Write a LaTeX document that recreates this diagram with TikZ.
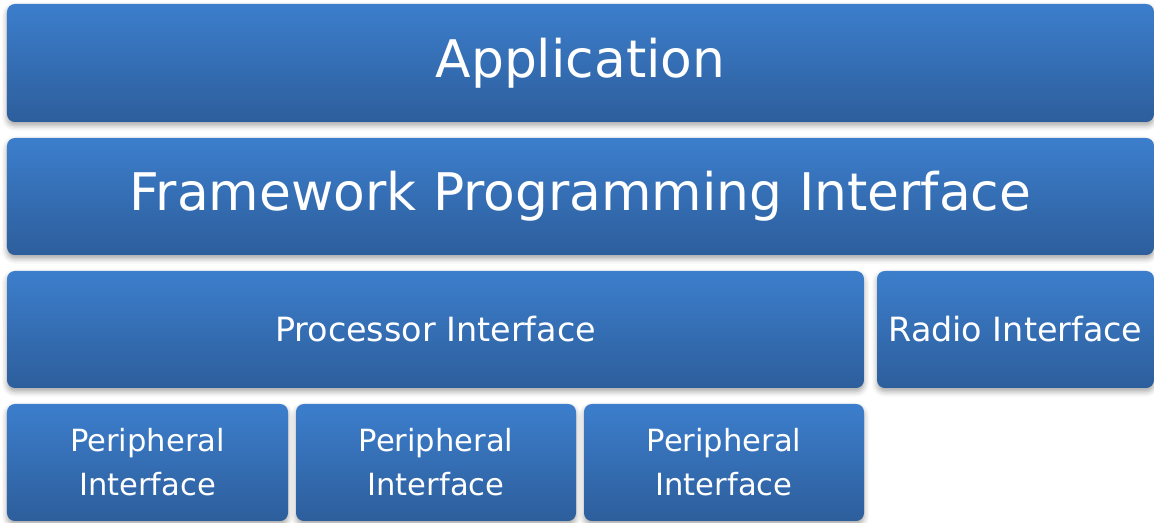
\documentclass[tikz,border=0pt]{standalone}
\usepackage{fontspec}
\setmainfont{DejaVu Sans}
\usetikzlibrary{shadows.blur}
\definecolor{layertop}{RGB}{60,126,204}
\definecolor{layerbot}{RGB}{45,94,156}

\begin{document}
\begin{tikzpicture}
\tikzstyle{layer}=[rounded corners=4.5pt, top color=layertop, bottom color=layerbot, text=white, align=center, inner sep=0pt,
  blur shadow={shadow xshift=0pt, shadow yshift=-2pt, shadow blur radius=3pt, shadow opacity=35}]
\tikzstyle{layer_big}=[layer, font=\fontsize{29.5}{34}\selectfont]
\tikzstyle{layer_mid}=[layer, font=\fontsize{19}{23}\selectfont]
\tikzstyle{layer_small}=[layer, font=\fontsize{17.4}{25}\selectfont]

\useasboundingbox (0,0) rectangle (23.08,-10.46);

\path (11.61,-1.26) node[layer_big, minimum width=22.94cm, minimum height=2.36cm](App) {Application}
      (11.61,-3.93) node[layer_big, minimum width=22.94cm, minimum height=2.34cm](FPI) {Framework Programming Interface}
      (8.71,-6.59) node[layer_mid, minimum width=17.14cm, minimum height=2.34cm](Proc) {Processor Interface}
      (20.31,-6.59) node[layer_mid, minimum width=5.54cm, minimum height=2.34cm](Radio) {Radio Interface}
      (2.95,-9.25) node[layer_small, minimum width=5.62cm, minimum height=2.34cm](P1) {Peripheral\\Interface}
      (8.72,-9.25) node[layer_small, minimum width=5.6cm, minimum height=2.34cm](P2) {Peripheral\\Interface}
      (14.48,-9.25) node[layer_small, minimum width=5.6cm, minimum height=2.34cm](P3) {Peripheral\\Interface};

\end{tikzpicture}
\end{document}
